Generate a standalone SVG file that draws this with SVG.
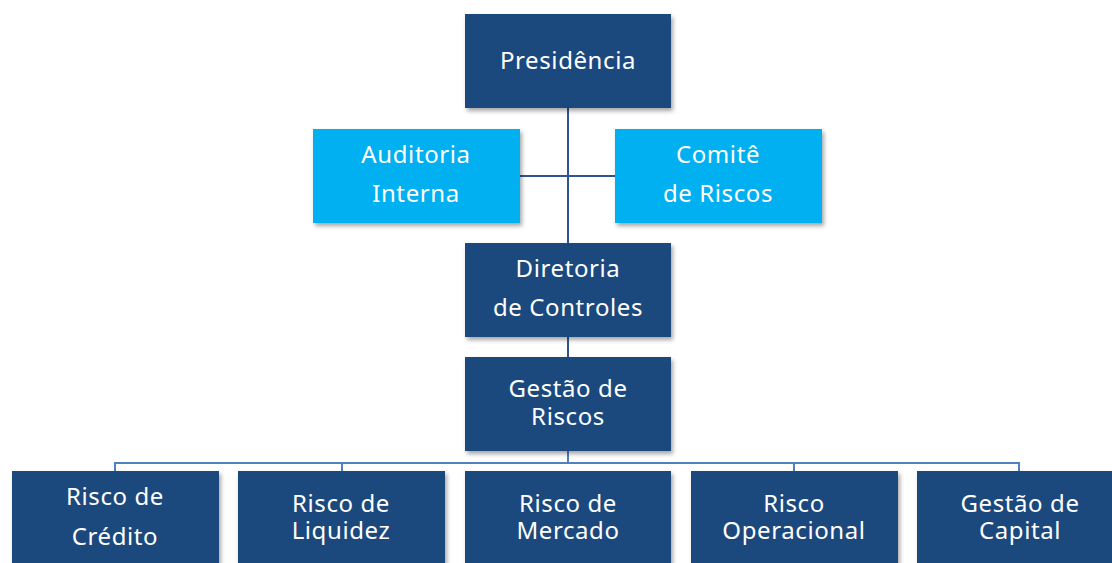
<svg xmlns="http://www.w3.org/2000/svg" width="1112" height="563" viewBox="0 0 1112 563">
<style>
.dark{fill:#1f497d;}
.light{fill:#00b0f0;}
.box{filter:url(#sh);}
text{font-family:"Noto Sans","Open Sans",sans-serif;font-size:24px;letter-spacing:0.6px;fill:#ffffff;text-anchor:middle;}
.c1{stroke:#2f5496;stroke-width:2;fill:none;}
.c2{stroke:#4f81bd;stroke-width:2;fill:none;}
</style>
<defs>
<filter id="sh" x="-10%" y="-10%" width="125%" height="130%">
<feDropShadow dx="2" dy="3" stdDeviation="2" flood-color="#000" flood-opacity="0.35"/>
</filter>
</defs>
<g id="connectors">
<path class="c1" d="M568 108 V243 M520 176 H615 M568 337 V357"/>
<path class="c2" d="M568 451 V463 M115 471 V463 H1019 V471 M342 463 V471 M794 463 V471"/>
</g>
<g id="presidencia"><rect class="dark box" x="465" y="14" width="206" height="94"/><text x="568" y="69">Presidência</text></g>
<g id="auditoria"><rect class="light box" x="313" y="129" width="207" height="94"/><text x="416" y="163">Auditoria</text><text x="416" y="202">Interna</text></g>
<g id="comite"><rect class="light box" x="615" y="129" width="207" height="94"/><text x="718" y="163">Comitê</text><text x="718" y="202">de Riscos</text></g>
<g id="diretoria"><rect class="dark box" x="465" y="243" width="206" height="94"/><text x="568" y="277">Diretoria</text><text x="568" y="316">de Controles</text></g>
<g id="gestao-riscos"><rect class="dark box" x="465" y="357" width="206" height="94"/><text x="568" y="397">Gestão de</text><text x="568" y="425">Riscos</text></g>
<g id="credito"><rect class="dark box" x="12" y="471" width="207" height="100"/><text x="115" y="505">Risco de</text><text x="115" y="545">Crédito</text></g>
<g id="liquidez"><rect class="dark box" x="238" y="471" width="207" height="100"/><text x="341" y="512">Risco de</text><text x="341" y="539">Liquidez</text></g>
<g id="mercado"><rect class="dark box" x="465" y="471" width="206" height="100"/><text x="568" y="512">Risco de</text><text x="568" y="539">Mercado</text></g>
<g id="operacional"><rect class="dark box" x="691" y="471" width="207" height="100"/><text x="794" y="512">Risco</text><text x="794" y="539">Operacional</text></g>
<g id="capital"><rect class="dark box" x="917" y="471" width="207" height="100"/><text x="1020" y="512">Gestão de</text><text x="1020" y="539">Capital</text></g>
</svg>
